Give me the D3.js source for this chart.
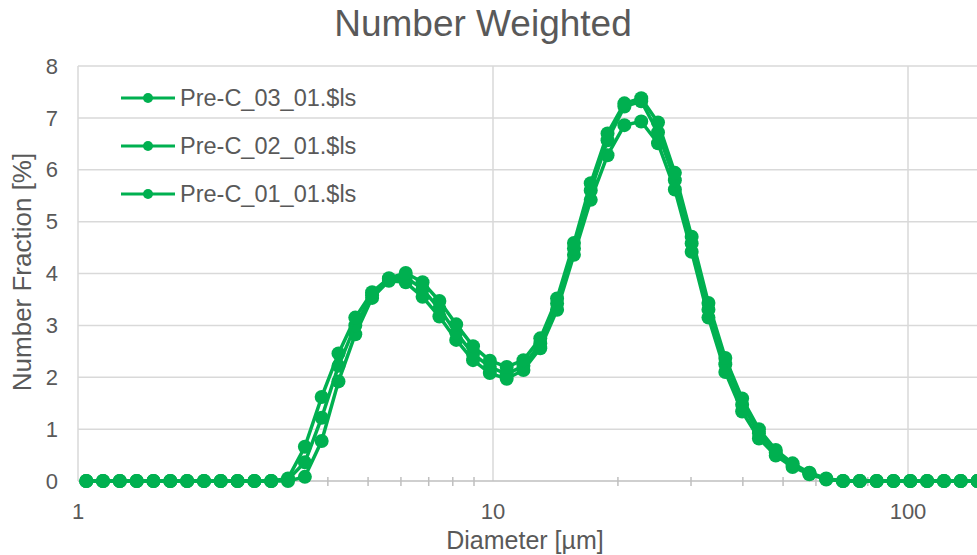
<!DOCTYPE html>
<html>
<head>
<meta charset="utf-8">
<script src="https://cdn.jsdelivr.net/npm/d3@7"></script>
<style>
    body { margin: 0; background: #fff; }
    svg { display: block; font-family: "Liberation Sans", Arial, sans-serif; }
</style>
</head>
<body>
<svg id="chart" width="977" height="555"></svg>
<script>
// Channel diameters [um] (log spaced LS bins)
const diameters = [1.047, 1.149, 1.261, 1.385, 1.520, 1.669, 1.832, 2.012, 2.208, 2.424,
    2.661, 2.921, 3.207, 3.521, 3.865, 4.243, 4.658, 5.113, 5.613, 6.162,
    6.765, 7.427, 8.153, 8.951, 9.826, 10.79, 11.84, 13.00, 14.27, 15.67,
    17.20, 18.88, 20.73, 22.76, 24.98, 27.43, 30.11, 33.05, 36.29, 39.84,
    43.73, 48.01, 52.71, 57.86, 63.52, 69.73, 76.55, 84.04, 92.26, 101.3,
    111.2, 122.1, 134.0, 147.1];

// Number fraction [%] per run
const run01 = [0, 0, 0, 0, 0, 0, 0, 0, 0, 0,
    0, 0, 0.00, 0.08, 0.77, 1.92, 2.83, 3.53, 3.86, 3.83,
    3.55, 3.17, 2.72, 2.33, 2.08, 1.97, 2.14, 2.56, 3.30, 4.36,
    5.42, 6.28, 6.86, 6.93, 6.51, 5.62, 4.42, 3.15, 2.10, 1.34,
    0.82, 0.49, 0.27, 0.13, 0.03, 0, 0, 0, 0, 0,
    0, 0, 0, 0];
const run02 = [0, 0, 0, 0, 0, 0, 0, 0, 0, 0,
    0, 0, 0.03, 0.36, 1.22, 2.22, 3.00, 3.58, 3.88, 3.93,
    3.70, 3.32, 2.86, 2.45, 2.20, 2.06, 2.22, 2.65, 3.42, 4.48,
    5.60, 6.57, 7.22, 7.32, 6.72, 5.80, 4.58, 3.30, 2.25, 1.47,
    0.92, 0.55, 0.31, 0.15, 0.04, 0, 0, 0, 0, 0,
    0, 0, 0, 0];
const run03 = [0, 0, 0, 0, 0, 0, 0, 0, 0, 0,
    0, 0, 0.05, 0.66, 1.62, 2.46, 3.15, 3.64, 3.91, 4.01,
    3.83, 3.47, 3.02, 2.60, 2.32, 2.20, 2.33, 2.75, 3.52, 4.59,
    5.74, 6.70, 7.28, 7.38, 6.91, 5.94, 4.71, 3.43, 2.37, 1.59,
    1.00, 0.60, 0.34, 0.16, 0.05, 0, 0, 0, 0, 0,
    0, 0, 0, 0];

const seriesNames = ["Pre-C_03_01.$ls", "Pre-C_02_01.$ls", "Pre-C_01_01.$ls"];
const seriesValues = [run03, run02, run01];
const yTicks = [0, 1, 2, 3, 4, 5, 6, 7, 8];
const xMajorTicks = [1, 10, 100];

const green = "#00B050";
const textColor = "#595959";

const svg = d3.select("#chart");
const plot = { left: 78, right: 977, top: 66, bottom: 481 };

// log axis: one decade = 415px, right edge cuts the last channel
const xMax = Math.pow(10, (plot.right - plot.left) / 415);
const x = d3.scaleLog().domain([1, xMax]).range([plot.left, plot.right]);
const y = d3.scaleLinear().domain([0, 8]).range([plot.bottom, plot.top]);

// --- GRID ---
svg.append("g").selectAll("line")
    .data(yTicks.slice(1)).enter().append("line")
    .attr("x1", plot.left).attr("x2", plot.right)
    .attr("y1", d => y(d)).attr("y2", d => y(d))
    .attr("stroke", "#D9D9D9").attr("stroke-width", 1.5);

svg.append("g").selectAll("line")
    .data(xMajorTicks.slice(1)).enter().append("line")
    .attr("x1", d => x(d)).attr("x2", d => x(d))
    .attr("y1", plot.top).attr("y2", plot.bottom)
    .attr("stroke", "#D9D9D9").attr("stroke-width", 1.5);

// --- AXES ---
// minor ticks 2..9 per decade, crossing the axis line
const minorTicks = [];
[1, 10, 100].forEach(dec => {
    for (let k = 2; k <= 9; k++) if (dec * k <= xMax) minorTicks.push(dec * k);
});
svg.append("g").selectAll("line")
    .data(minorTicks).enter().append("line")
    .attr("x1", d => x(d)).attr("x2", d => x(d))
    .attr("y1", plot.bottom - 4).attr("y2", plot.bottom + 5)
    .attr("stroke", "#BFBFBF").attr("stroke-width", 1.5);

svg.append("line")
    .attr("x1", plot.left).attr("x2", plot.right)
    .attr("y1", plot.bottom).attr("y2", plot.bottom)
    .attr("stroke", "#BFBFBF").attr("stroke-width", 1.5);
svg.append("line")
    .attr("x1", plot.left).attr("x2", plot.left)
    .attr("y1", plot.top).attr("y2", plot.bottom)
    .attr("stroke", "#D9D9D9").attr("stroke-width", 1.5);

svg.append("g").selectAll("text")
    .data(yTicks).enter().append("text")
    .attr("x", 58).attr("y", d => y(d))
    .attr("dy", "0.35em").attr("text-anchor", "end")
    .attr("fill", textColor).style("font-size", "22px")
    .text(d => d);

svg.append("g").selectAll("text")
    .data(xMajorTicks).enter().append("text")
    .attr("x", d => x(d)).attr("y", 511)
    .attr("dy", "0.35em").attr("text-anchor", "middle")
    .attr("fill", textColor).style("font-size", "22px")
    .text(d => d);

// titles
svg.append("text")
    .attr("x", 483).attr("y", 23).attr("dy", "0.35em")
    .attr("text-anchor", "middle").attr("fill", textColor)
    .style("font-size", "37px")
    .text("Number Weighted");

svg.append("text")
    .attr("x", 525).attr("y", 540).attr("dy", "0.35em")
    .attr("text-anchor", "middle").attr("fill", textColor)
    .style("font-size", "25px")
    .text("Diameter [µm]");

svg.append("text")
    .attr("transform", "translate(22,272) rotate(-90)")
    .attr("dy", "0.35em")
    .attr("text-anchor", "middle").attr("fill", textColor)
    .style("font-size", "26px")
    .text("Number Fraction [%]");

// --- SERIES --- (draw 01 first, 03 on top)
const line = d3.line()
    .x((d, i) => x(diameters[i]))
    .y(d => y(d));

[2, 1, 0].forEach(s => {
    const vals = seriesValues[s];
    const g = svg.append("g");
    g.append("path")
        .datum(vals)
        .attr("d", line)
        .attr("fill", "none")
        .attr("stroke", green)
        .attr("stroke-width", 3.5)
        .attr("stroke-linejoin", "round");
    g.selectAll("circle")
        .data(vals).enter().append("circle")
        .attr("cx", (d, i) => x(diameters[i]))
        .attr("cy", d => y(d))
        .attr("r", 7)
        .attr("fill", green);
});

// --- LEGEND ---
const legend = svg.append("g").attr("transform", "translate(121, 98)");
seriesNames.forEach((name, i) => {
    const row = legend.append("g").attr("transform", `translate(0, ${i * 48})`);
    row.append("line")
        .attr("x1", 0).attr("x2", 54)
        .attr("stroke", green).attr("stroke-width", 3);
    row.append("circle")
        .attr("cx", 27).attr("r", 5)
        .attr("fill", green);
    row.append("text")
        .attr("x", 59).attr("dy", "0.35em")
        .attr("fill", textColor).style("font-size", "23.5px")
        .text(name);
});
</script>
</body>
</html>
